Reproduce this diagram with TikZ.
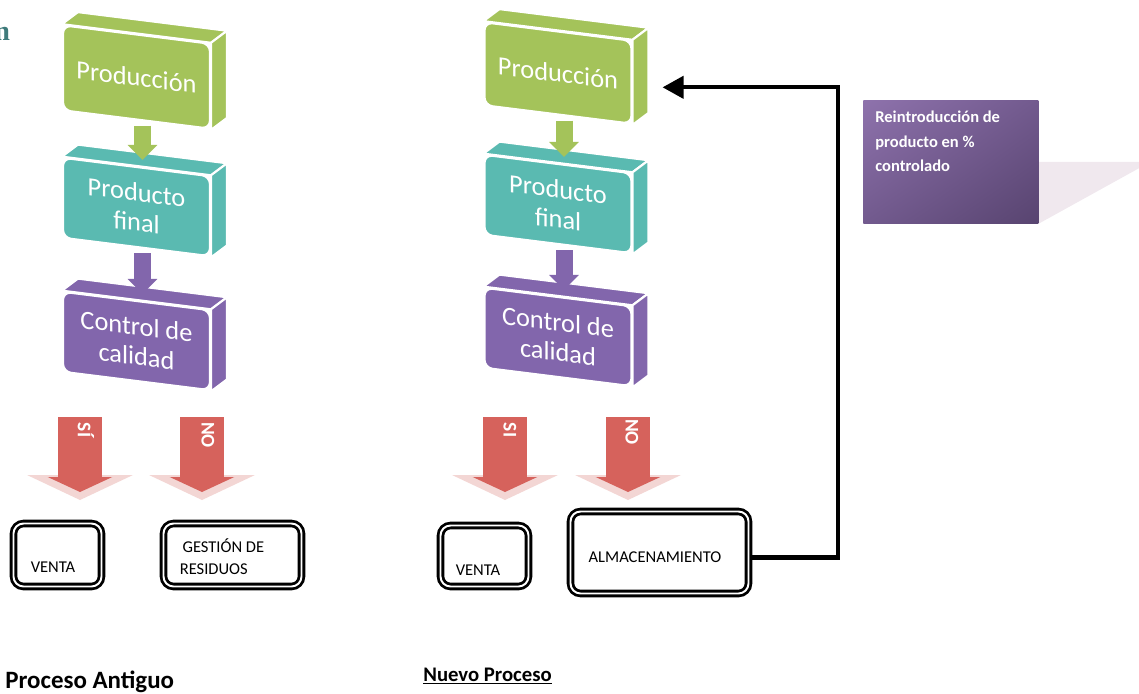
\documentclass[tikz,border=0pt]{standalone}
\usepackage{fontspec}
\setmainfont{Carlito}
\newfontfamily\cutfont{Liberation Serif}
\usepackage{tikz}
\usetikzlibrary{arrows.meta,backgrounds,shadings}
\definecolor{cgreen}{RGB}{164,195,90}
\definecolor{cteal}{RGB}{90,186,177}
\definecolor{cpurple}{RGB}{130,102,172}
\definecolor{cred}{RGB}{214,98,92}
\definecolor{cglow}{RGB}{243,214,212}
\definecolor{notelight}{RGB}{142,114,172}
\definecolor{notemid}{RGB}{114,90,142}
\definecolor{notedark}{RGB}{88,68,112}
\definecolor{noteshade}{RGB}{240,232,238}
\definecolor{cuttext}{RGB}{62,122,122}

\begin{document}
\begin{tikzpicture}[x=0.02cm,y=-0.02cm,
	cube/.style={rectangle, rounded corners=0.16cm, draw=white, line width=1.2pt, yslant=-0.125, minimum width=2.94cm, text=white, align=center, font=\fontsize{15}{17}\selectfont},
	face/.style={draw=white, line width=1.2pt, line join=round},
	link/.style={line width=0.34cm, -{Triangle[length=0.3cm,width=0.58cm]}},
	bigarrow/.style={draw=cred, line width=0.88cm, -{Triangle[length=0.3cm,width=1.28cm]}},
	flag/.style={text=white, font=\bfseries\fontsize{11}{11}\selectfont, rotate=-90, inner sep=0pt},
	outbox/.style={draw, rounded corners=0.2cm, line width=1.6pt, double=white, double distance=1.1pt},
	boxtxt/.style={font=\fontsize{9.4}{12.5}\selectfont, align=left, inner sep=0pt},
	feedback/.style={line width=2.3pt, -{Triangle[length=0.42cm,width=0.44cm]}},
	title/.style={font=\bfseries, anchor=base west, inner sep=0pt}]
    \useasboundingbox (0,0) rectangle (1139,693);

    \node[font=\cutfont\bfseries\fontsize{16}{16}\selectfont, text=cuttext, anchor=base west, inner sep=0pt] (cut) at (-6,40) {n};

    % proceso antiguo
    \node[cube, fill=cgreen, minimum height=1.7cm] (prodA) at (136.5,77) {Producción};
    \node[cube, fill=cteal, minimum height=1.6cm] (finA) at (136.5,207) {Producto\\final};
    \node[cube, fill=cpurple, minimum height=1.6cm] (ctrlA) at (136.5,341) {Control de\\calidad};

    % proceso nuevo
    \node[cube, fill=cgreen, minimum height=1.66cm] (prodN) at (558,73) {Producción};
    \node[cube, fill=cteal, minimum height=1.6cm] (finN) at (558,204) {Producto\\final};
    \node[cube, fill=cpurple, minimum height=1.6cm] (ctrlN) at (558,337) {Control de\\calidad};

    \begin{pgfonlayer}{background}
    \foreach \n/\c in {prodA/cgreen, finA/cteal, ctrlA/cpurple, prodN/cgreen, finN/cteal, ctrlN/cpurple}{
      \filldraw[face, fill=\c] (\n.north west) -- (\n.north east) -- ++(16,-12) -- ([shift={(16,-12)}]\n.north west) -- cycle;
      \filldraw[face, fill=\c] (\n.north east) -- (\n.south east) -- ++(16,-12) -- ([shift={(16,-12)}]\n.north east) -- cycle;
    }
    \end{pgfonlayer}

    \draw[link, draw=cgreen] ([shift={(6,5)}]prodA.south) -- ([shift={(6,-6)}]finA.north);
    \draw[link, draw=cpurple] ([shift={(6,5)}]finA.south) -- ([shift={(6,-6)}]ctrlA.north);
    \draw[link, draw=cgreen] ([shift={(6,5)}]prodN.south) -- ([shift={(6,-6)}]finN.north);
    \draw[link, draw=cpurple] ([shift={(6,5)}]finN.south) -- ([shift={(6,-6)}]ctrlN.north);

    % flechas si / no
    \foreach \a/\x in {siA/80, noA/202, siN/505, noN/628}{
      \coordinate (\a-top) at (\x,417);
      \coordinate (\a-tip) at (\x,500);
      \fill[cglow] (\a-tip) ++(-53,-25) -- ++(106,0) -- (\a-tip) -- cycle;
      \draw[bigarrow] (\a-top) -- ([yshift=0.16cm]\a-tip);
    }
    \node[flag] (siA-lbl) at (86,430) {SÍ};
    \node[flag] (noA-lbl) at (208,435) {NO};
    \node[flag] (siN-lbl) at (510,430) {SI};
    \node[flag] (noN-lbl) at (632,432) {NO};

    \node[outbox, minimum width=1.76cm, minimum height=1.26cm] (ventaA) at (57.5,555) {};
    \node[boxtxt] (ventaA-txt) at (53,567) {VENTA};
    \node[outbox, minimum width=2.76cm, minimum height=1.26cm] (gestA) at (232.5,555) {};
    \node[boxtxt] (gestA-txt) at (222,557) {\,GESTIÓN DE\\RESIDUOS};
    \node[outbox, minimum width=1.76cm, minimum height=1.22cm] (ventaN) at (484.5,556) {};
    \node[boxtxt] (ventaN-txt) at (478,570) {VENTA};
    \node[outbox, minimum width=3.56cm, minimum height=1.64cm] (almN) at (659.5,552.5) {};
    \node[boxtxt] (almN-txt) at (655,557) {ALMACENAMIENTO};

    \draw[feedback] ([shift={(0,5)}]almN.east) -- ++(88,0) |- ([shift={(30,5)}]prodN.east);

    \node[anchor=north west, minimum width=3.5cm, minimum height=2.46cm, inner sep=0pt,
      upper left=notelight, upper right=notemid, lower left=notemid, lower right=notedark] (reint) at (863,100) {};
    \begin{pgfonlayer}{background}
      \fill[noteshade] (reint.east) -- ++(101,0) -- ++(0,6) -- (reint.south east) -- cycle;
    \end{pgfonlayer}
    \node[anchor=north west, text=white, align=left, inner sep=0pt, font=\bfseries\fontsize{9.4}{13.7}\selectfont] (reint-txt) at (875,111) {Reintroducción de\\producto en \%\\controlado};

    \node[title, font=\bfseries\fontsize{14.2}{14.2}\selectfont] (antiguo) at (5,688) {Proceso Antiguo};
    \node[title, font=\bfseries\fontsize{11.8}{11.8}\selectfont] (nuevo) at (423,681) {\underline{Nuevo Proceso}};
\end{tikzpicture}
\end{document}
